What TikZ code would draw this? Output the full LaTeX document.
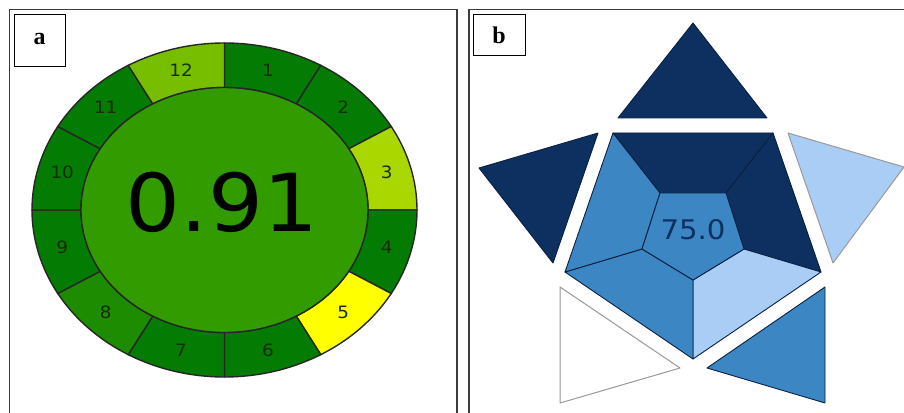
\documentclass[tikz,border=0pt]{standalone}
\usepackage{fontspec}
\setmainfont{DejaVu Sans}
\newfontfamily\labelserif{Liberation Serif}
\usetikzlibrary{calc}

% greens of the ring chart
\definecolor{gdark}{RGB}{4,124,4}
\definecolor{gmid}{RGB}{30,140,0}
\definecolor{gcore}{RGB}{50,155,0}
\definecolor{glime}{RGB}{120,190,0}
\definecolor{glight}{RGB}{170,215,0}
\definecolor{gyellow}{RGB}{255,255,0}
\definecolor{ringtext}{RGB}{20,45,0}
% blues of the pentagon chart
\definecolor{bnavy}{RGB}{14,48,96}
\definecolor{bmid}{RGB}{60,135,195}
\definecolor{blight}{RGB}{170,205,245}
\definecolor{bedge}{RGB}{10,32,64}
\definecolor{frameline}{RGB}{60,60,60}

\tikzset{
  panelframe/.style={draw=frameline, line width=1.2pt},
  tagbox/.style={draw=black, line width=0.9pt, fill=white},
  tagtext/.style={font=\labelserif\bfseries\fontsize{24}{24}\selectfont},
  ringseg/.style={draw=black!85, line width=1.4pt},
  ringnum/.style={text=ringtext, font=\fontsize{17}{17}\selectfont, xscale=1.08},
  piece/.style={draw=bedge, line width=0.9pt, line join=round},
  palepiece/.style={draw=gray!80, line width=1pt, line join=round},
}

\begin{document}
\begin{tikzpicture}[x=1pt,y=1pt]
\useasboundingbox (0,0) rectangle (904,412);
\clip (0,0) rectangle (904,412);

% panel frames (bottom and right edges run off the page)
\draw[panelframe] (9.5,-5) -- (9.5,402.5) -- (457,402.5) -- (457,-5);
\draw[panelframe] (469,-5) -- (469,402.5) -- (915,402.5);

% ---------- panel a: ring of twelve segments ----------
\coordinate (C) at (224.5,202);
\foreach \k/\col in {1/gdark,2/gdark,3/glight,4/gdark,5/gyellow,6/gdark,
                     7/gdark,8/gmid,9/gdark,10/gdark,11/gdark,12/glime}{
  \pgfmathsetmacro{\aa}{90-30*(\k-1)}
  \pgfmathsetmacro{\ab}{90-30*\k}
  \pgfmathsetmacro{\am}{75-30*(\k-1)}
  \path[ringseg, fill=\col]
    ($(C)+(\aa:192.5pt and 167pt)$)
    arc[start angle=\aa, end angle=\ab, x radius=192.5pt, y radius=167pt]
    -- ($(C)+(\ab:143.5pt and 122.5pt)$)
    arc[start angle=\ab, end angle=\aa, x radius=143.5pt, y radius=122.5pt]
    -- cycle;
  \node[ringnum] (n\k) at ($(C)+(\am:168pt and 144.75pt)$) {\k};
}
\path[ringseg, fill=gcore] (C) ellipse[x radius=143.5pt, y radius=122.5pt];
\node[font=\fontsize{80}{80}\selectfont, xscale=1.08] (score) at (222,210) {0.91};

% ---------- panel b: pentagon with five outer triangles ----------
% outer pentagon corners
\coordinate (pTL) at (613,279);
\coordinate (pTR) at (773,279);
\coordinate (pR)  at (821,140);
\coordinate (pB)  at (693,53);
\coordinate (pL)  at (565,140);
% inner pentagon corners
\coordinate (qTL) at (660,219);
\coordinate (qTR) at (726,219);
\coordinate (qR)  at (744,163);
\coordinate (qB)  at (693,132);
\coordinate (qL)  at (642,163);

\filldraw[piece, fill=bnavy] (pTL) -- (pTR) -- (qTR) -- (qTL) -- cycle;
\filldraw[piece, fill=bnavy] (pTR) -- (pR) -- (qR) -- (qTR) -- cycle;
\filldraw[piece, fill=blight] (pR) -- (pB) -- (qB) -- (qR) -- cycle;
\filldraw[piece, fill=bmid] (pB) -- (pL) -- (qL) -- (qB) -- cycle;
\filldraw[piece, fill=bmid] (pL) -- (pTL) -- (qTL) -- (qL) -- cycle;
\filldraw[piece, fill=bmid] (qTL) -- (qTR) -- (qR) -- (qB) -- (qL) -- cycle;
\node[text=bnavy, font=\fontsize{27}{27}\selectfont, xscale=1.08] (total) at (693,182) {75.0};

% outer triangles
\filldraw[piece, fill=bnavy] (693,389) -- (618,294) -- (767,294) -- cycle;
\filldraw[piece, fill=bnavy] (598,279) -- (479,244) -- (553,149) -- cycle;
\filldraw[palepiece, fill=blight] (788,279) -- (904,245) -- (833,149) -- cycle;
\filldraw[palepiece, fill=white] (560,125) -- (680,44) -- (560,9) -- cycle;
\filldraw[piece, fill=bmid] (825,125) -- (707,44) -- (825,9) -- cycle;

% panel tags
\draw[tagbox] (14,346) rectangle (65,398);
\node[tagtext] (taga) at (39.5,373) {a};
\draw[tagbox] (473,357) rectangle (525,398);
\node[tagtext] (tagb) at (499,377) {b};
\end{tikzpicture}
\end{document}
